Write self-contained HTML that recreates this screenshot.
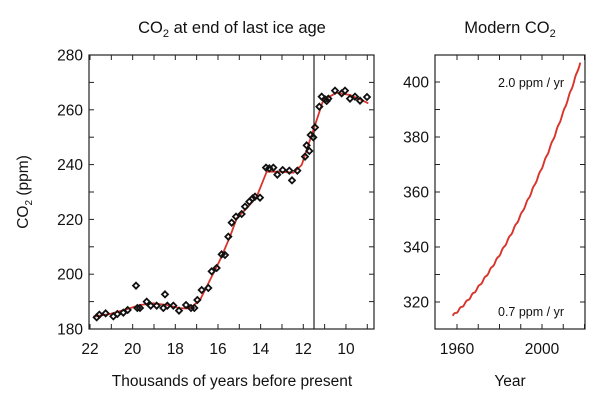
<!DOCTYPE html>
<html><head><style>
body{margin:0;background:#fff;}
svg{display:block;font-family:"Liberation Sans",sans-serif;}
</style></head><body>
<svg width="610" height="409" viewBox="0 0 610 409">
<g fill="#111" font-size="15.5">
<text x="232" y="33" text-anchor="middle" font-size="16.5">CO<tspan font-size="11" dy="4">2</tspan><tspan dy="-4"> at end of last ice age</tspan></text>
<text x="510" y="33" text-anchor="middle" font-size="16.5">Modern CO<tspan font-size="11" dy="4">2</tspan></text>
<text transform="translate(28,192) rotate(-90)" text-anchor="middle" font-size="15.5">CO<tspan font-size="10" dy="4">2</tspan><tspan dy="-4"> (ppm)</tspan></text>
<text x="232" y="386" text-anchor="middle">Thousands of years before present</text>
<text x="510" y="386" text-anchor="middle">Year</text>
</g>
<g id="left"></g>
<g id="right"></g>
</svg>
<script>
const NS="http://www.w3.org/2000/svg";
function el(p,t,a,txt){const e=document.createElementNS(NS,t);for(const k in a)e.setAttribute(k,a[k]);if(txt!=null)e.textContent=txt;p.appendChild(e);return e;}
const L=document.getElementById('left'),R=document.getElementById('right');
const FS=15.5;
el(L,'rect',{x:89,y:55,width:285,height:274,fill:'none',stroke:'#222','stroke-width':1.2});
const yL=p=>55+(280-p)*2.74;
for(let p=180;p<=280;p+=10){const y=yL(p);el(L,'line',{x1:89,x2:94,y1:y,y2:y,stroke:'#222'});el(L,'line',{x1:369,x2:374,y1:y,y2:y,stroke:'#222'});
 if(p%20==0)el(L,'text',{x:83,y:y+5.5,'text-anchor':'end','font-size':FS,fill:'#111'},p);}
const xL=k=>90+(22-k)*21.33;
for(let k=22;k>=9;k--){const x=xL(k);el(L,'line',{x1:x,x2:x,y1:329,y2:324,stroke:'#222'});el(L,'line',{x1:x,x2:x,y1:55,y2:60,stroke:'#222'});
 if(k%2==0)el(L,'text',{x:x,y:354,'text-anchor':'middle','font-size':FS,fill:'#111'},k);}
el(L,'line',{x1:314,x2:314,y1:55,y2:329,stroke:'#222','stroke-width':1.2});
const curve=[[100,830],[150,822],[200,808],[240,795],[280,790],[320,795],[360,805],[390,805],[420,780],[450,720],[480,660],[510,590],[530,535],[560,505],[590,470],[620,395],[660,395],[700,398],[725,375],[750,300],[770,240],[790,180],[830,158],[870,165],[900,178],[925,190]];
el(L,'polyline',{points:curve.map(p=>(60+p[0]/3).toFixed(1)+','+(40+p[1]/3).toFixed(1)).join(' '),fill:'none',stroke:'#d9342b','stroke-width':1.8,'stroke-linejoin':'round'});
const pts=[[110,832],[118,824],[137,820],[160,829],[172,822],[190,818],[203,810],[228,737],[232,804],[240,804],[260,785],[272,797],[290,797],[310,804],[315,763],[322,797],[340,797],[357,812],[378,795],[393,804],[403,804],[412,780],[425,750],[445,744],[455,694],[470,684],[485,643],[495,645],[505,590],[515,548],[528,530],[545,522],[555,500],[568,485],[578,475],[585,470],[600,473],[618,383],[628,385],[640,383],[652,404],[668,390],[688,392],[696,421],[712,392],[735,350],[740,316],[748,333],[752,285],[760,292],[765,262],[778,200],[785,170],[795,178],[800,183],[805,176],[825,152],[845,160],[855,152],[870,176],[885,170],[900,182],[921,171]];
for(const p of pts){const x=60+p[0]/3,y=40+p[1]/3;el(L,'polygon',{points:`${x},${y-3} ${x+3},${y} ${x},${y+3} ${x-3},${y}`,fill:'none',stroke:'#111','stroke-width':1.8});}
el(R,'rect',{x:435,y:55,width:150,height:274,fill:'none',stroke:'#222','stroke-width':1.2});
const yR=p=>82+(400-p)*2.75;
for(let p=320;p<=410;p+=10){const y=yR(p);if(y<55)continue;el(R,'line',{x1:435,x2:440,y1:y,y2:y,stroke:'#222'});el(R,'line',{x1:580,x2:585,y1:y,y2:y,stroke:'#222'});
 if(p%20==0)el(R,'text',{x:429,y:y+5.5,'text-anchor':'end','font-size':FS,fill:'#111'},p);}
const xR=t=>457+(t-1960)*2.125;
for(let t=1960;t<=2020;t+=10){const x=xR(t);el(R,'line',{x1:x,x2:x,y1:329,y2:324,stroke:'#222'});el(R,'line',{x1:x,x2:x,y1:55,y2:60,stroke:'#222'});
 if(t%40==0)el(R,'text',{x:x,y:354,'text-anchor':'middle','font-size':FS,fill:'#111'},t);}
let d=[];for(let t=1958;t<=2018;t+=0.5){const u=t-1958;let p=315+0.7*u+0.0139*u*u+0.35*Math.sin(u*2.2);d.push(xR(t).toFixed(1)+','+yR(p).toFixed(1));}
el(R,'polyline',{points:d.join(' '),fill:'none',stroke:'#d9342b','stroke-width':1.9});
el(R,'text',{x:564,y:87,'text-anchor':'end','font-size':12.5,fill:'#111'},'2.0 ppm / yr');
el(R,'text',{x:564,y:316,'text-anchor':'end','font-size':12.5,fill:'#111'},'0.7 ppm / yr');
</script>
</body></html>
